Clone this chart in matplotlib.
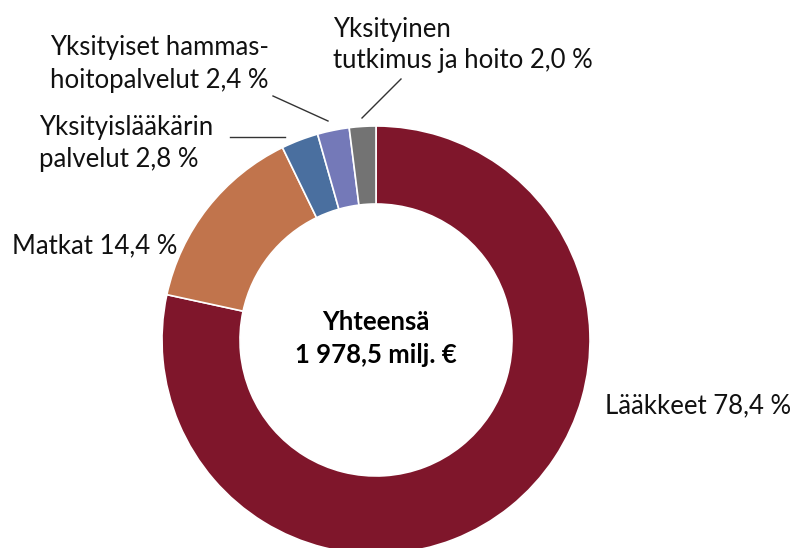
import matplotlib
matplotlib.use("Agg")
import matplotlib.pyplot as plt

plt.rcParams['font.family'] = ['Lato', 'DejaVu Sans']

labels = ["Lääkkeet 78,4 %", "Matkat 14,4 %", "Yksityislääkärin\npalvelut 2,8 %",
          "Yksityiset hammas-\nhoitopalvelut 2,4 %", "Yksityinen\ntutkimus ja hoito 2,0 %"]
values = [78.4, 14.4, 2.8, 2.4, 2.0]
colors = ["#7f162b", "#c1744c", "#4a6f9f", "#7479b8", "#737373"]
center_text = ["Yhteensä", "1 978,5 milj. €"]

W, H = 799, 548
fig = plt.figure(figsize=(W / 100, H / 100), dpi=100)
ax = fig.add_axes([0, 0, 1, 1])


def py(y):
    # pixel row from top -> data y
    return H - y


ax.pie(values, colors=colors, startangle=90, counterclock=False,
       radius=214, center=(376, py(340)),
       wedgeprops=dict(width=78, edgecolor="white", linewidth=1.2))
ax.set_xlim(0, W)
ax.set_ylim(0, H)
ax.set_aspect("equal")
ax.axis("off")

fs = 18.5
# label positions: left x, baselines of each line (pixels from top)
label_pos = [(605, [413]), (12, [253]), (39, [135, 167]), (50, [55, 88]), (333, [37, 68])]
for lab, (x, bases) in zip(labels, label_pos):
    for line, b in zip(lab.split("\n"), bases):
        ax.text(x, py(b), line, fontsize=fs, ha="left", va="baseline", color="#111111")

# leader lines
leaders = [((230, 137), (285, 137)), ((273, 96), (328, 121)), ((362, 118), (401, 79))]
for (x0, y0), (x1, y1) in leaders:
    ax.plot([x0, x1], [py(y0), py(y1)], color="#333333", lw=1.0)

ax.text(376, py(330), center_text[0], fontsize=fs, fontweight="bold", ha="center", va="baseline")
ax.text(376, py(363), center_text[1], fontsize=fs, fontweight="bold", ha="center", va="baseline")

fig.savefig("out.png", dpi=100)
